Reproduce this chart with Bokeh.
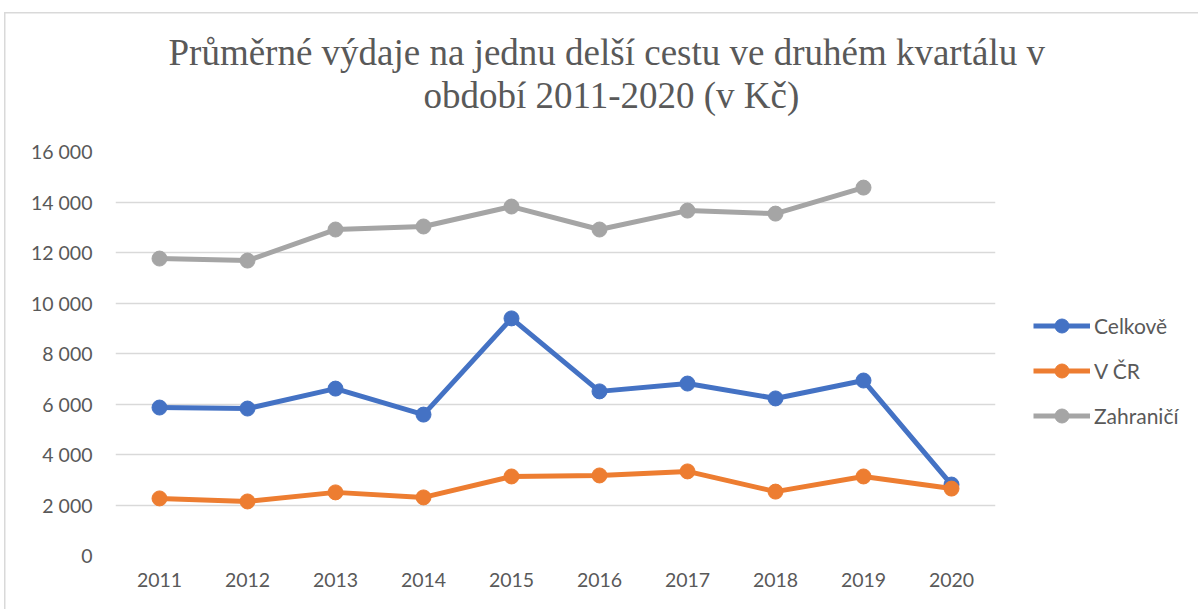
from bokeh.plotting import figure
from bokeh.models import (Range1d, FixedTicker, CustomJSTickFormatter, Legend, LegendItem, Title)
from bokeh.embed import file_html
from bokeh.resources import INLINE
import numpy as np

years = [2011, 2012, 2013, 2014, 2015, 2016, 2017, 2018, 2019, 2020]
celkove = [5860, 5820, 6610, 5580, 9390, 6500, 6810, 6220, 6930, 2810]
v_cr = [2260, 2140, 2500, 2300, 3130, 3170, 3330, 2530, 3130, 2650]
zahranici = [11760, 11680, 12910, 13030, 13820, 12910, 13660, 13540, 14570, np.nan]
series_names = ["Celkově", "V ČR", "Zahraničí"]
colors = ["#4472C4", "#ED7D31", "#A5A5A5"]
y_ticks = [0, 2000, 4000, 6000, 8000, 10000, 12000, 14000, 16000]
title_lines = ["Průměrné výdaje na jednu delší cestu ve druhém kvartálu v",
               "období 2011-2020 (v Kč)"]

AX_FONT = "Lato"
GRAY = "#595959"

p = figure(frame_width=880, frame_height=404, output_backend="svg", toolbar_location=None,
           x_range=Range1d(2010.5, 2020.5), y_range=Range1d(0, 16000),
           min_border_left=115, min_border_right=203, min_border_top=151,
           min_border_bottom=54)
p.outline_line_color = None
p.border_fill_alpha = 0
p.styles = {
    "background": ("linear-gradient(#D9D9D9,#D9D9D9) 4px 12px / 1.5px 100% no-repeat, "
                   "linear-gradient(#D9D9D9,#D9D9D9) 4px 12px / 100% 1.5px no-repeat, #FFFFFF"),
}
p.xgrid.grid_line_color = None
p.ygrid.grid_line_color = "#D9D9D9"
p.ygrid.grid_line_width = 1.3

p.xaxis.ticker = FixedTicker(ticks=years)
p.yaxis.ticker = FixedTicker(ticks=y_ticks)
p.yaxis.formatter = CustomJSTickFormatter(
    code="return Math.round(tick).toString().replace(/\\B(?=(\\d{3})+(?!\\d))/g, ' ');")
for ax in (p.xaxis[0], p.yaxis[0]):
    ax.axis_line_color = None
    ax.major_tick_line_color = None
    ax.minor_tick_line_color = None
    ax.major_label_text_font = AX_FONT
    ax.major_label_text_font_size = "19.5px"
    ax.major_label_text_color = GRAY
p.yaxis.major_label_standoff = 17
p.xaxis.major_label_standoff = 11

items = []
for name, vals, c in zip(series_names, [celkove, v_cr, zahranici], colors):
    l = p.line(years, vals, line_color=c, line_width=5, line_join="round")
    s = p.scatter(years, vals, size=15, fill_color=c, line_color=c)
    items.append(LegendItem(label=name, renderers=[l, s]))

legend = Legend(items=items, location=(38, 122), orientation="vertical",
                label_text_font=AX_FONT, label_text_font_size="21px",
                label_text_color=GRAY, glyph_width=57, glyph_height=35,
                spacing=10, label_standoff=4, border_line_color=None,
                background_fill_alpha=0, padding=0, margin=0)
p.add_layout(legend, "right")

# second line first (closest to the plot), then first line above it
offsets = [53, 308]
standoffs = [-72, 72]
for i in (1, 0):
    p.add_layout(Title(text=title_lines[i], align="left", offset=offsets[i],
                       text_font="Liberation Serif", text_font_size="37px",
                       text_font_style="normal", text_color=GRAY, standoff=standoffs[i]),
                 "above")

open("out.html", "w").write(file_html(p, INLINE))
